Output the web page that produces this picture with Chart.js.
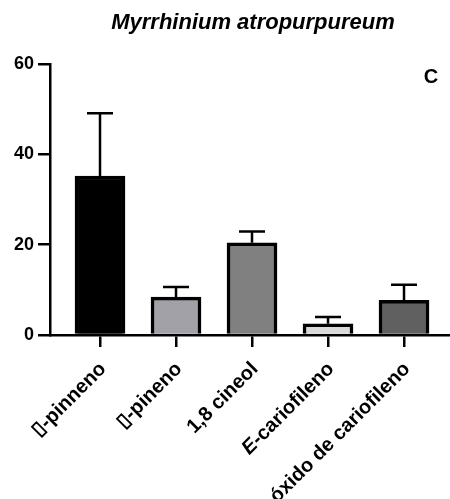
<!DOCTYPE html>
<html>
<head>
<meta charset="utf-8">
<script src="https://cdn.jsdelivr.net/npm/chart.js@4"></script>
<style>
  html, body { margin: 0; padding: 0; background: #fff; }
  #wrap { width: 450px; height: 499px; }
</style>
</head>
<body>
<div id="wrap"><canvas id="chartC"></canvas></div>
<script>
/* ================= DATA ================= */

const compounds = ['\u25AF-pinneno', '\u25AF-pineno', '1,8 cineol', 'E-cariofileno', '\u00f3xido de cariofileno'];
const italicPart = ['', '', '', 'E', ''];
const means = [35.2, 8.4, 20.4, 2.5, 7.7];
const sdUpper = [13.9, 2.2, 2.5, 1.5, 3.4];
const yTicks = [0, 20, 40, 60];
const barColors = ['#000000', '#a2a1a8', '#808080', '#d9d9d9', '#606060'];

const FONT = "'Liberation Sans', Arial, sans-serif";

/* ================= PLUGINS ================= */

// upper error bars (mean + SD)
const errorBars = {
    id: 'errorBars',
    afterDatasetsDraw(chart) {
        const { ctx, scales } = chart;
        ctx.save();
        ctx.strokeStyle = '#000';
        ctx.lineWidth = 2.5;
        means.forEach((m, i) => {
            let x = scales.x.getPixelForValue(i);
            let y0 = scales.y.getPixelForValue(m);
            let y1 = scales.y.getPixelForValue(m + sdUpper[i]);
            ctx.beginPath();
            ctx.moveTo(x, y0);
            ctx.lineTo(x, y1);
            ctx.moveTo(x - 13, y1);
            ctx.lineTo(x + 13, y1);
            ctx.stroke();
        });
        ctx.restore();
    }
};

// title, panel letter and rotated category labels
const labels = {
    id: 'labels',
    afterDraw(chart) {
        const { ctx, scales } = chart;
        ctx.save();
        ctx.fillStyle = '#000';
        ctx.textBaseline = 'middle';
        ctx.textAlign = 'center';
        ctx.font = "italic bold 22px " + FONT;
        ctx.fillText('Myrrhinium atropurpureum', 253, 23);
        ctx.font = "bold 20px " + FONT;
        ctx.fillText('C', 431, 77);

        let yBase = scales.y.getPixelForValue(0);
        compounds.forEach((c, i) => {
            let x = scales.x.getPixelForValue(i);
            ctx.save();
            ctx.translate(x + 3, yBase + 31);
            ctx.rotate(-Math.PI / 4);
            ctx.textAlign = 'right';
            let rest = c.slice(italicPart[i].length);
            ctx.font = "bold 20px " + FONT;
            ctx.fillText(rest, 0, 0);
            if (italicPart[i]) {
                let w = ctx.measureText(rest).width;
                ctx.font = "italic bold 20px " + FONT;
                ctx.fillText(italicPart[i], -w, 0);
            }
            ctx.restore();
        });
        ctx.restore();
    }
};

/* ================= CHART ================= */

const ctx = document.getElementById('chartC');

let barChart = new Chart(ctx, {
    type: 'bar',
    data: {
        datasets: [{
            label: 'C',
            data: means.map((v, i) => ({ x: i, y: v })),
            backgroundColor: barColors,
            borderColor: '#000',
            borderWidth: 3.5,
            borderSkipped: 'bottom',
            barThickness: 50
        }]
    },
    options: {
        responsive: true,
        maintainAspectRatio: false,
        animation: false,
        layout: { padding: { top: 64, left: 0, right: 0, bottom: 0 } },
        plugins: {
            legend: { display: false },
            tooltip: { enabled: false }
        },
        scales: {
            x: {
                type: 'linear',
                offset: false,
                min: -0.658,
                max: 4.605,
                afterFit(scale) { scale.height = 164; },
                afterBuildTicks(scale) {
                    scale.ticks = compounds.map((c, i) => ({ value: i }));
                },
                border: { display: true, color: '#000', width: 2.5 },
                grid: {
                    display: true,
                    offset: false,
                    drawOnChartArea: false,
                    drawTicks: true,
                    tickLength: 12,
                    color: '#000',
                    lineWidth: 2.5
                },
                ticks: {
                    display: false,
                    autoSkip: false
                }
            },
            y: {
                min: 0,
                max: 60,
                afterFit(scale) { scale.width = 50; },
                afterBuildTicks(scale) {
                    scale.ticks = yTicks.map(v => ({ value: v }));
                },
                border: { display: true, color: '#000', width: 2.5 },
                grid: {
                    display: true,
                    drawOnChartArea: false,
                    drawTicks: true,
                    tickLength: 12,
                    color: '#000',
                    lineWidth: 2.5
                },
                ticks: {
                    padding: 4,
                    color: '#000',
                    font: { family: FONT, size: 18, weight: 'bold' }
                }
            }
        }
    },
    plugins: [errorBars, labels]
});
</script>
</body>
</html>
